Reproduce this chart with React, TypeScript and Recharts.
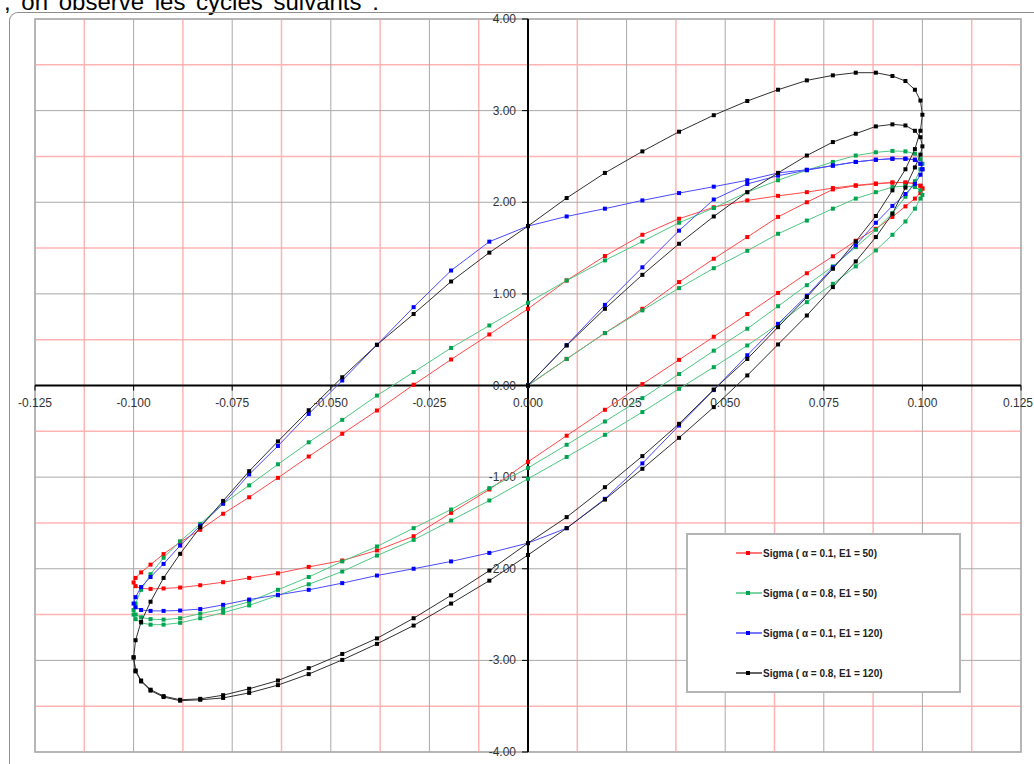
import React from "react";
import { ScatterChart, Scatter, XAxis, YAxis, ReferenceLine, ReferenceDot, ReferenceArea, Legend } from "recharts";

const FONT = "Arial, 'Liberation Sans', sans-serif";

// strain read along each half cycle (same abscissas for every series)
const strainRise = [0, 0.0098, 0.0195, 0.029, 0.0383, 0.0471, 0.0556, 0.0634, 0.0707, 0.0773, 0.0831, 0.0882, 0.0924, 0.0957, 0.0981, 0.0995, 0.1];
const strainDown = [
  0.1, 0.0995, 0.0981, 0.0957, 0.0924, 0.0882, 0.0831, 0.0773, 0.0707, 0.0634, 0.0556, 0.0471, 0.0383, 0.029, 0.0195, 0.0098, 0,
  -0.0098, -0.0195, -0.029, -0.0383, -0.0471, -0.0556, -0.0634, -0.0707, -0.0773, -0.0831, -0.0882, -0.0924, -0.0957, -0.0981, -0.0995, -0.1,
];
const strainUp = [
  -0.1, -0.0995, -0.0981, -0.0957, -0.0924, -0.0882, -0.0831, -0.0773, -0.0707, -0.0634, -0.0556, -0.0471, -0.0383, -0.029, -0.0195, -0.0098, 0,
  0.0098, 0.0195, 0.029, 0.0383, 0.0471, 0.0556, 0.0634, 0.0707, 0.0773, 0.0831, 0.0882, 0.0924, 0.0957, 0.0981, 0.0995, 0.1,
];

// Sigma ( a = 0.1, E1 = 50)
const redRise = [0, 0.29, 0.572, 0.837, 1.129, 1.383, 1.62, 1.84, 2.0, 2.14, 2.18, 2.2, 2.215, 2.215, 2.205, 2.18, 2.15];
const redDown1 = [2.15, 2.1, 2.04, 1.955, 1.84, 1.71, 1.58, 1.41, 1.225, 1.01, 0.78, 0.532, 0.28, 0.015, -0.265, -0.548, -0.833, -1.135, -1.39, -1.645, -1.8, -1.91, -1.98, -2.05, -2.1, -2.147, -2.18, -2.205, -2.215, -2.22, -2.215, -2.19, -2.15];
const redUp1 = [-2.15, -2.1, -2.04, -1.955, -1.84, -1.71, -1.575, -1.4, -1.22, -1.008, -0.775, -0.527, -0.273, 0.008, 0.284, 0.557, 0.837, 1.146, 1.413, 1.645, 1.82, 1.945, 2.02, 2.07, 2.11, 2.155, 2.185, 2.205, 2.215, 2.215, 2.205, 2.18, 2.15];

// Sigma ( a = 0.8, E1 = 50)
const greenRise = [0, 0.29, 0.572, 0.82, 1.063, 1.28, 1.47, 1.656, 1.8, 1.93, 2.04, 2.11, 2.166, 2.177, 2.166, 2.13, 2.08];
const greenDown1 = [2.08, 2.04, 1.93, 1.79, 1.645, 1.474, 1.3, 1.11, 0.91, 0.67, 0.437, 0.2, -0.036, -0.29, -0.538, -0.78, -1.018, -1.255, -1.474, -1.685, -1.856, -2.03, -2.17, -2.29, -2.4, -2.48, -2.54, -2.59, -2.61, -2.61, -2.59, -2.55, -2.5];
const greenUp1 = [-2.5, -2.38, -2.23, -2.06, -1.88, -1.7, -1.51, -1.29, -1.09, -0.86, -0.62, -0.375, -0.11, 0.146, 0.41, 0.655, 0.903, 1.146, 1.365, 1.572, 1.776, 1.937, 2.11, 2.24, 2.35, 2.44, 2.51, 2.545, 2.56, 2.555, 2.53, 2.47, 2.42];
const greenDown2 = [2.42, 2.36, 2.23, 2.06, 1.88, 1.7, 1.51, 1.3, 1.095, 0.865, 0.62, 0.38, 0.125, -0.138, -0.393, -0.647, -0.9, -1.12, -1.354, -1.557, -1.757, -1.92, -2.09, -2.23, -2.36, -2.44, -2.49, -2.54, -2.555, -2.55, -2.53, -2.5, -2.45];

// Sigma ( a = 0.1, E1 = 120)
const blueRise = [0, 0.44, 0.88, 1.29, 1.69, 2.03, 2.2, 2.29, 2.35, 2.4, 2.44, 2.464, 2.475, 2.475, 2.464, 2.42, 2.36];
const blueDown1 = [2.36, 2.3, 2.2, 2.09, 1.96, 1.776, 1.53, 1.29, 0.98, 0.673, 0.33, -0.05, -0.437, -0.85, -1.237, -1.557, -1.72, -1.827, -1.92, -2.0, -2.074, -2.157, -2.23, -2.285, -2.336, -2.394, -2.44, -2.456, -2.46, -2.46, -2.45, -2.42, -2.38];
const blueUp1 = [-2.38, -2.31, -2.2, -2.09, -1.947, -1.747, -1.53, -1.29, -0.97, -0.66, -0.31, 0.055, 0.444, 0.855, 1.255, 1.57, 1.74, 1.845, 1.93, 2.02, 2.1, 2.17, 2.24, 2.32, 2.355, 2.4, 2.44, 2.464, 2.475, 2.475, 2.464, 2.42, 2.36];

// Sigma ( a = 0.8, E1 = 120)
const blackRise = [0, 0.437, 0.837, 1.208, 1.547, 1.845, 2.11, 2.32, 2.51, 2.657, 2.748, 2.828, 2.85, 2.838, 2.78, 2.71, 2.61];
const blackDown1 = [2.61, 2.52, 2.38, 2.16, 1.875, 1.62, 1.354, 1.074, 0.764, 0.448, 0.11, -0.236, -0.571, -0.909, -1.245, -1.557, -1.85, -2.13, -2.38, -2.62, -2.82, -2.995, -3.15, -3.27, -3.355, -3.41, -3.43, -3.44, -3.4, -3.33, -3.23, -3.12, -2.97];
const blackUp1 = [-2.97, -2.78, -2.58, -2.36, -2.1, -1.837, -1.546, -1.26, -0.935, -0.61, -0.27, 0.09, 0.444, 0.78, 1.135, 1.45, 1.74, 2.046, 2.32, 2.555, 2.77, 2.95, 3.105, 3.228, 3.33, 3.385, 3.414, 3.414, 3.378, 3.323, 3.228, 3.11, 2.955];
const blackDown2 = [2.955, 2.78, 2.58, 2.36, 2.13, 1.85, 1.572, 1.274, 0.965, 0.637, 0.29, -0.044, -0.418, -0.771, -1.11, -1.437, -1.72, -2.02, -2.29, -2.54, -2.76, -2.93, -3.085, -3.22, -3.31, -3.38, -3.42, -3.43, -3.39, -3.32, -3.22, -3.11, -2.965];

const xTicks = [-0.125, -0.1, -0.075, -0.05, -0.025, 0, 0.025, 0.05, 0.075, 0.1, 0.125];
const xMinor = [-0.1125, -0.0875, -0.0625, -0.0375, -0.0125, 0.0125, 0.0375, 0.0625, 0.0875, 0.1125];
const yTicks = [-4, -3, -2, -1, 0, 1, 2, 3, 4];
const yMinor = [-3.5, -2.5, -1.5, -0.5, 0.5, 1.5, 2.5, 3.5];

type Pt = { x: number; y: number };

// first branch is the loading from 0, then alternating unloading / reloading
function buildLoop(branches: number[][]): Pt[] {
  const pts: Pt[] = [];
  branches.forEach((sig, b) => {
    const strain = b === 0 ? strainRise : b % 2 === 1 ? strainDown : strainUp;
    sig.forEach((s, i) => {
      if (b > 0 && i === 0) return; // same point as the end of the previous branch
      pts.push({ x: strain[i], y: s });
    });
  });
  return pts;
}

const series = [
  { name: "Sigma ( α = 0.1, E1 = 50)", color: "#ff0000", line: "#ff4a4a", data: buildLoop([redRise, redDown1, redUp1]) },
  { name: "Sigma ( α = 0.8, E1 = 50)", color: "#00a550", line: "#4cc882", data: buildLoop([greenRise, greenDown1, greenUp1, greenDown2]) },
  { name: "Sigma ( α = 0.1, E1 = 120)", color: "#0000ff", line: "#4a4aff", data: buildLoop([blueRise, blueDown1, blueUp1]) },
  { name: "Sigma ( α = 0.8, E1 = 120)", color: "#000000", line: "#303030", data: buildLoop([blackRise, blackDown1, blackUp1, blackDown2]) },
];

const square = (color: string) => (p: any) => (
  <rect x={p.cx - 2} y={p.cy - 2} width={4} height={4} fill={color} />
);

const xLabel = (v: number) => (p: any) => {
  // the last label sits against the right edge of the picture
  const last = v === xTicks[xTicks.length - 1];
  return (
    <g>
      <line x1={p.cx} y1={p.cy} x2={p.cx} y2={p.cy + 5} stroke="#000" strokeWidth={1} />
      <text x={last ? p.cx + 12 : p.cx} y={p.cy + 21} textAnchor={last ? "end" : "middle"} fontSize={12} fontFamily={FONT} fill="#333">
        {v.toFixed(3)}
      </text>
    </g>
  );
};

const yLabel = (v: number) => (p: any) => (
  <g>
    <line x1={p.cx - 6} y1={p.cy} x2={p.cx} y2={p.cy} stroke="#000" strokeWidth={1} />
    <text x={p.cx - 12} y={p.cy + 4} textAnchor="end" fontSize={12} fontFamily={FONT} fill="#333">
      {v.toFixed(2)}
    </text>
  </g>
);

function LegendBox() {
  return (
    <div style={{ width: 275, height: 160, boxSizing: "border-box", border: "2px solid #b4b4b4", background: "#fff", position: "relative", fontFamily: FONT }}>
      {series.map((s, i) => (
        <div key={s.name} style={{ position: "absolute", left: 47, top: 11 + i * 40, height: 14, display: "flex", alignItems: "center" }}>
          <svg width={28} height={14}>
            <line x1={1} y1={7} x2={27} y2={7} stroke={s.line} strokeWidth={1.5} />
            <rect x={11} y={5} width={4} height={4} fill={s.color} />
          </svg>
          <span style={{ fontSize: 10, fontWeight: 700, color: "#222", whiteSpace: "nowrap" }}>{s.name}</span>
        </div>
      ))}
    </div>
  );
}

export default function App() {
  return (
    <div style={{ position: "absolute", left: 0, top: 0, width: 1034, height: 764, overflow: "hidden", background: "#fff" }}>
      <svg width={1034} height={20} style={{ position: "absolute", left: 0, top: 0 }}>
        <text x={4} y={10} fontSize={24} fontFamily={FONT} fill="#000" wordSpacing={4}>
          , on observe les cycles suivants :
        </text>
      </svg>
      <div
        style={{
          position: "absolute", left: 9, top: 12, width: 1025, height: 752, boxSizing: "border-box",
          borderLeft: "1.5px solid #8e8e8e", borderTop: "1.5px solid #8e8e8e", borderTopLeftRadius: 9,
        }}
      />
      <div style={{ position: "absolute", left: 0, top: 0 }}>
        <ScatterChart width={1034} height={764} margin={{ top: 19, right: 13, bottom: 12, left: 35 }}>
          <XAxis type="number" dataKey="x" domain={[-0.125, 0.125]} hide />
          <YAxis type="number" dataKey="y" domain={[-4, 4]} hide />
          {xMinor.map((v) => (
            <ReferenceLine key={"xm" + v} x={v} stroke="#ffb4b4" strokeWidth={1.5} />
          ))}
          {yMinor.map((v) => (
            <ReferenceLine key={"ym" + v} y={v} stroke="#ffb4b4" strokeWidth={1.5} />
          ))}
          {xTicks.map((v) => (
            <ReferenceLine key={"xg" + v} x={v} stroke="#a8a8a8" strokeWidth={1} />
          ))}
          {yTicks.map((v) => (
            <ReferenceLine key={"yg" + v} y={v} stroke="#a8a8a8" strokeWidth={1} />
          ))}
          <ReferenceArea x1={-0.125} x2={0.125} y1={-4} y2={4} fill="none" stroke="#c4c4c4" strokeWidth={2} />
          <ReferenceLine x={0} stroke="#000" strokeWidth={2} />
          <ReferenceLine y={0} stroke="#000" strokeWidth={2} />
          {xTicks.map((v) => (
            <ReferenceDot key={"xl" + v} x={v} y={0} r={0} shape={xLabel(v)} />
          ))}
          {yTicks.map((v) => (
            <ReferenceDot key={"yl" + v} x={0} y={v} r={0} shape={yLabel(v)} />
          ))}
          {series.map((s) => (
            <Scatter
              key={s.name}
              name={s.name}
              data={s.data}
              fill={s.color}
              line={{ stroke: s.line, strokeWidth: 1 }}
              lineType="joint"
              shape={square(s.color)}
              isAnimationActive={false}
            />
          ))}
          <Legend
            layout="vertical"
            align="center"
            verticalAlign="middle"
            wrapperStyle={{ position: "absolute", left: 686, top: 533, width: 275, height: 160 }}
            content={() => <LegendBox />}
          />
        </ScatterChart>
      </div>
    </div>
  );
}
